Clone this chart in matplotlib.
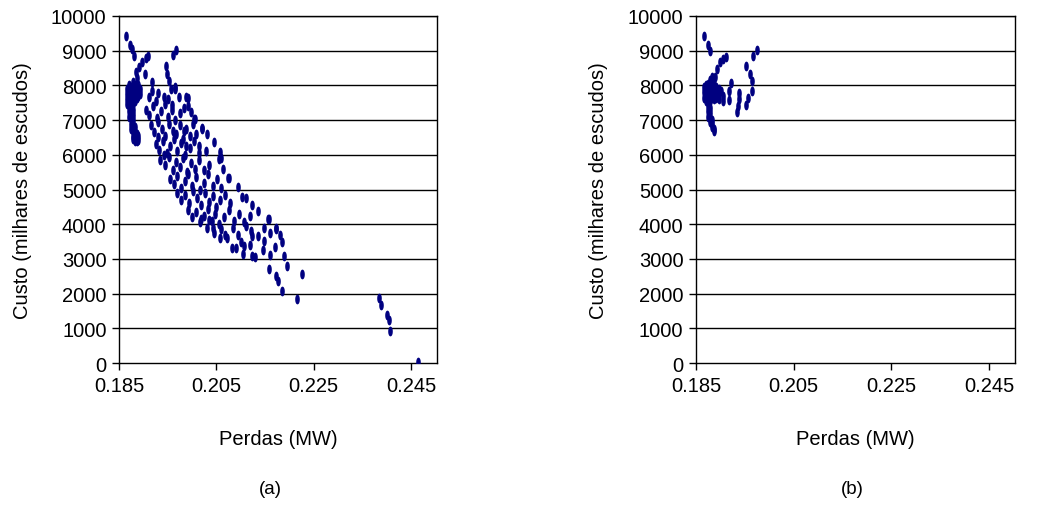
import numpy as np
import matplotlib
matplotlib.use('Agg')
import matplotlib.pyplot as plt
from matplotlib.path import Path
from matplotlib.transforms import Affine2D

plt.rcParams['font.family'] = ['Liberation Sans', 'DejaVu Sans']

# ---- data (a): losses (MW) vs cost (thousand escudos) ----
a_pts = [
    # top left chain
    (0.1865, 9430), (0.1873, 9170), (0.1877, 9050), (0.1881, 8840), (0.1885, 8380),
    (0.1892, 8530), (0.1898, 8680), (0.1906, 8790), (0.1910, 8850), (0.1903, 8330),
    (0.1961, 8880), (0.1968, 9020), (0.1946, 8570), (0.1949, 8330),
    # dense left column
    (0.1866, 7900), (0.1866, 7750), (0.1866, 7600), (0.1866, 7450),
    (0.1870, 8000), (0.1870, 7850), (0.1870, 7700), (0.1870, 7550), (0.1870, 7400),
    (0.1870, 7250), (0.1870, 7100),
    (0.1874, 7950), (0.1874, 7800), (0.1874, 7650), (0.1874, 7500), (0.1874, 7350),
    (0.1874, 7200), (0.1874, 7050), (0.1874, 6900), (0.1874, 6750),
    (0.1878, 8100), (0.1878, 7900), (0.1878, 7750), (0.1878, 7600), (0.1878, 7450),
    (0.1878, 7300), (0.1878, 7150), (0.1878, 7000), (0.1878, 6850), (0.1878, 6700),
    (0.1878, 6550), (0.1878, 6450),
    (0.1882, 8000), (0.1882, 7850), (0.1882, 7700), (0.1882, 7550), (0.1882, 6800),
    (0.1882, 6650), (0.1882, 6500), (0.1882, 6400),
    (0.1886, 8200), (0.1886, 7950), (0.1886, 7800), (0.1886, 7650), (0.1886, 6600),
    (0.1886, 6450), (0.1886, 6400),
    (0.1890, 8000), (0.1890, 7850), (0.1890, 7700), (0.1890, 6550), (0.1890, 6420),
    (0.1894, 7900), (0.1894, 7750),
    # upper band
    (0.1918, 8100), (0.1953, 8140), (0.1957, 7900), (0.1966, 7900), (0.1931, 7780),
    (0.1943, 7670), (0.1951, 7610), (0.1959, 7440), (0.1974, 7670), (0.1992, 7640),
    (0.1918, 7850), (0.1912, 7670), (0.1926, 7560), (0.1965, 7960),
    (0.1987, 7660), (0.1991, 7420), (0.1998, 7220), (0.2004, 7030), (0.2001, 6890),
    (0.2021, 6760), (0.1984, 6700), (0.2008, 6600), (0.1982, 6460), (0.1987, 6260),
    (0.2015, 6260), (0.2028, 6120), (0.2056, 5880), (0.2045, 6360), (0.2006, 7030),
    (0.2021, 6740), (0.2031, 6600),
    # band body
    (0.1905, 7300), (0.1912, 7150), (0.1920, 7400), (0.1928, 7050), (0.1936, 7250),
    (0.1944, 7450), (0.1950, 7100), (0.1958, 7300), (0.1966, 7000), (0.1975, 7200),
    (0.1984, 7350),
    (0.1915, 6850), (0.1922, 6650), (0.1930, 6950), (0.1938, 6750), (0.1945, 6550),
    (0.1952, 6900), (0.1960, 6700), (0.1968, 6600), (0.1975, 6850), (0.1988, 6750),
    (0.1995, 6550), (0.1930, 6500),
    (0.1925, 6300), (0.1933, 6150), (0.1940, 6400), (0.1948, 6050), (0.1955, 6250),
    (0.1962, 6450), (0.1970, 6100), (0.1978, 6350), (0.1986, 6000), (0.1995, 6200),
    (0.2005, 6400), (0.2015, 6050), (0.1942, 6000),
    (0.1935, 5850), (0.1945, 5700), (0.1952, 5950), (0.1960, 5550), (0.1968, 5800),
    (0.1975, 5650), (0.1982, 5900), (0.1990, 5500), (0.1998, 5750), (0.2006, 5600),
    (0.2015, 5850), (0.2025, 5550), (0.2035, 5700),
    (0.1955, 5300), (0.1962, 5150), (0.1970, 5400), (0.1978, 5050), (0.1985, 5250),
    (0.1992, 5450), (0.2000, 5100), (0.2008, 5350), (0.2016, 5000), (0.2024, 5200),
    (0.2032, 5450), (0.2042, 5100), (0.2052, 5300), (0.2060, 5050),
    (0.1970, 4900), (0.1978, 4700), (0.1986, 4850), (0.1994, 4600), (0.2002, 4950),
    (0.2010, 4750), (0.2018, 4550), (0.2026, 4900), (0.2034, 4650), (0.2042, 4800),
    (0.2050, 4500), (0.2058, 4700), (0.2068, 4850), (0.2078, 4600),
    (0.1992, 4400), (0.2000, 4200), (0.2008, 4350), (0.2016, 4050), (0.2024, 4250),
    (0.2032, 4450), (0.2040, 4100), (0.2048, 4300), (0.2056, 4000), (0.2066, 4200),
    (0.2076, 4400), (0.2086, 4100), (0.2096, 4300), (0.2106, 4050), (0.2118, 4250),
    (0.2030, 3900), (0.2045, 3750), (0.2060, 3850), (0.2072, 3600), (0.2085, 3900),
    (0.2095, 3700), (0.2110, 3950), (0.2122, 3800), (0.2135, 3650), (0.2148, 3900),
    (0.2160, 3750),
    (0.2090, 3300), (0.2105, 3150), (0.2118, 3400), (0.2130, 3050), (0.2145, 3250),
    (0.2160, 3100), (0.2170, 3350),
    # right edge and lower tail
    (0.2059, 5900), (0.2057, 6070), (0.2064, 5590), (0.2073, 5320), (0.2076, 5320),
    (0.2095, 5060), (0.2103, 4780), (0.2110, 4750), (0.2123, 4550), (0.2136, 4390),
    (0.2156, 4150), (0.2158, 4150), (0.2173, 3880), (0.2172, 3860), (0.2180, 3690),
    (0.2185, 3480), (0.2189, 3080), (0.2195, 2800), (0.2226, 2570), (0.2159, 2710),
    (0.2173, 2520), (0.2176, 2370), (0.2184, 2080), (0.2216, 1840),
    (0.2124, 3090), (0.2083, 3310), (0.2058, 3590), (0.2068, 3690), (0.2043, 3880),
    (0.2035, 4130), (0.2018, 4150), (0.2100, 3480), (0.2107, 3380), (0.2124, 3670),
    (0.2148, 3530),
    # far tail
    (0.2383, 1870), (0.2389, 1670), (0.2401, 1380), (0.2404, 1240), (0.2407, 930),
    (0.2464, 40),
]
a_loss = [p[0] for p in a_pts]
a_cost = [p[1] for p in a_pts]

# ---- data (b) ----
b_pts = [
    (0.1866, 9430), (0.1875, 9165), (0.1878, 9000),
    (0.1892, 8470), (0.1899, 8670), (0.1906, 8760), (0.1911, 8830), (0.1889, 8230),
    (0.1922, 8070), (0.1918, 7850), (0.1918, 7590), (0.1906, 7700), (0.1905, 7560),
    (0.1938, 7780), (0.1937, 7610), (0.1935, 7400), (0.1934, 7225), (0.1953, 8550),
    (0.1961, 8330), (0.1964, 8140), (0.1964, 7850), (0.1956, 7630), (0.1953, 7440),
    (0.1967, 8840), (0.1975, 9020),
    (0.1867, 7950), (0.1867, 7800), (0.1867, 7650),
    (0.1871, 8000), (0.1871, 7850), (0.1871, 7700), (0.1871, 7550),
    (0.1875, 8050), (0.1875, 7900), (0.1875, 7750), (0.1875, 7600),
    (0.1879, 8150), (0.1879, 8000), (0.1879, 7850), (0.1879, 7700), (0.1879, 7550),
    (0.1883, 8250), (0.1883, 8100), (0.1883, 7950), (0.1883, 7800), (0.1883, 7650),
    (0.1887, 8050), (0.1887, 7900), (0.1887, 7750), (0.1887, 7600),
    (0.1891, 7950), (0.1891, 7800), (0.1891, 7650),
    (0.1897, 7900), (0.1897, 7750), (0.1897, 7620), (0.1901, 7850),
    (0.1875, 7400), (0.1875, 7250), (0.1875, 7100),
    (0.1879, 7350), (0.1879, 7200), (0.1879, 7050), (0.1879, 6950),
    (0.1883, 7000), (0.1883, 6900), (0.1883, 6800), (0.1886, 6750), (0.1886, 6680),
]
b_loss = [p[0] for p in b_pts]
b_cost = [p[1] for p in b_pts]

xticks = [0.185, 0.205, 0.225, 0.245]
yticks = list(range(0, 10001, 1000))

# thin vertical ellipse marker
ell = Affine2D().scale(0.38, 1.0).transform_path(Path.unit_circle())

fig = plt.figure(figsize=(10.43, 5.06), dpi=100)
axes_pos = [[119 / 1043, 142 / 506, 318 / 1043, 347 / 506],
            [696 / 1043, 142 / 506, 319 / 1043, 347 / 506]]
datasets = [(a_loss, a_cost, '(a)', 270), (b_loss, b_cost, '(b)', 852)]
fs = 14.5

for pos, (xs, ys, tag, tag_x) in zip(axes_pos, datasets):
    ax = fig.add_axes(pos)
    for y in yticks[1:]:
        ax.axhline(y, color='black', lw=1, zorder=1)
    ax.plot(xs, ys, linestyle='none', marker=ell, ms=6,
            color='#000080', mec='#000080', zorder=3)
    ax.set_xlim(0.185, 0.2503)
    ax.set_ylim(0, 10000)
    ax.set_xticks(xticks)
    ax.set_xticklabels(['%.3f' % t for t in xticks])
    ax.set_yticks(yticks)
    ax.tick_params(direction='out', length=5, width=1, labelsize=fs, pad=4,
                   colors='black')
    for s in ax.spines.values():
        s.set_color('black')
        s.set_linewidth(1)
    ax.set_xlabel('Perdas (MW)', fontsize=fs)
    ax.xaxis.set_label_coords(0.5, -0.19)
    ax.set_ylabel('Custo (milhares de escudos)', fontsize=fs)
    ax.yaxis.set_label_coords(-0.275, 0.5)
    fig.text(tag_x / 1043, 16 / 506, tag, ha='center', va='center', fontsize=fs - 1)

fig.savefig('out.png', dpi=100)
